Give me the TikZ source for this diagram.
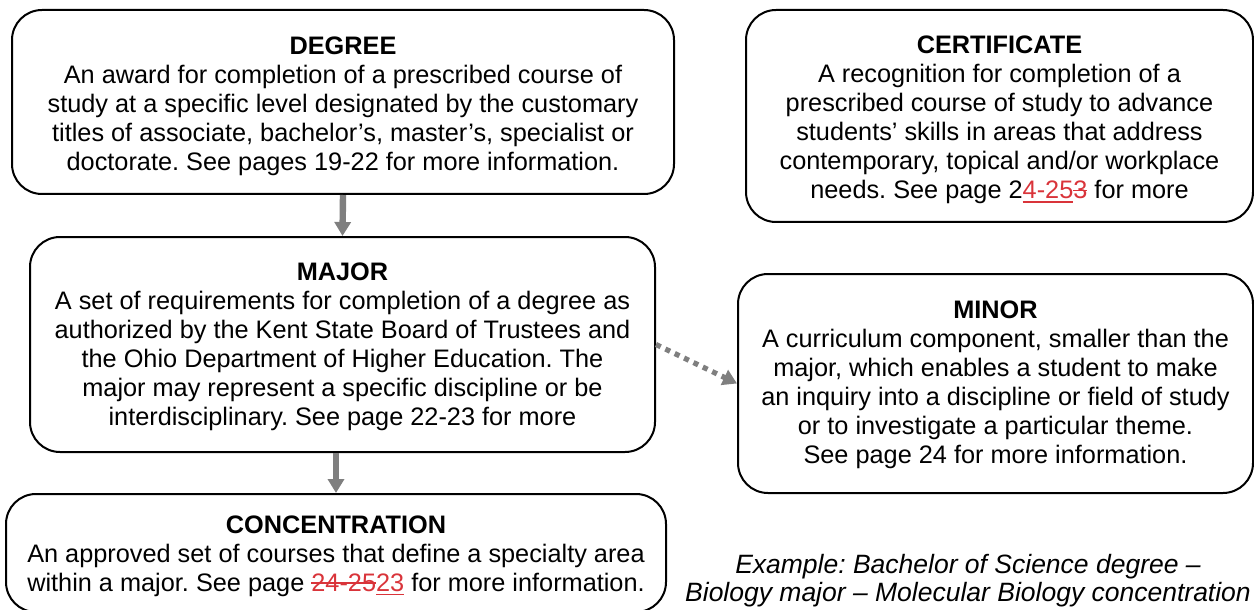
\documentclass[tikz,border=0pt]{standalone}
\usepackage{fontspec}
\setmainfont{Liberation Sans}
\usetikzlibrary{arrows.meta}
\definecolor{edit}{HTML}{D9343A}
\definecolor{arrowgrey}{HTML}{7F7F7F}
\frenchspacing
% tracked-change marks: struck-out and underlined red text
\newcommand\deltext[1]{{\color{edit}\setbox0\hbox{#1}\rlap{\rule[3.8pt]{\wd0}{0.7pt}}\box0}}
\newcommand\instext[1]{{\color{edit}\setbox0\hbox{#1}\rlap{\rule[-1.9pt]{\wd0}{0.7pt}}\box0}}
% extra height on the heading line, pushing the text block down a little
\newcommand\headgap[1]{\rule{0pt}{#1}}
\tikzset{
  infobox/.style={draw, line width=1pt, rounded corners=15pt, align=center,
    inner sep=0pt, font=\fontsize{12.65}{14.5}\selectfont},
  flow/.style={draw=arrowgrey, line width=3.2pt,
    -{Triangle[width=8pt,length=7pt]}},
  optional/.style={draw=arrowgrey, line width=2.6pt, dash pattern=on 2.6pt off 2.6pt,
    -{Triangle[width=8pt,length=7pt]}},
}
\begin{document}
\begin{tikzpicture}[x=0.5pt,y=-0.5pt]
\useasboundingbox (0,0) rectangle (1254,610);

\node[infobox, minimum width=331pt, minimum height=92pt] (degree) at (343,102)
  {\headgap{13pt}\textbf{DEGREE}\\
   An award for completion of a prescribed course of\\
   study at a specific level designated by the customary\\
   titles of associate, bachelor’s, master’s, specialist or\\
   doctorate. See pages 19-22 for more information.};

\node[infobox, minimum width=253.5pt, minimum height=106pt] (cert) at (999.5,116)
  {\headgap{13pt}\textbf{CERTIFICATE}\\
   A recognition for completion of a\\
   prescribed course of study to advance\\
   students’ skills in areas that address\\
   contemporary, topical and/or workplace\\
   needs. See page 2\instext{4-25}\deltext{3} for more};

\node[infobox, minimum width=312.5pt, minimum height=107.5pt] (major) at (342.5,344.5)
  {\headgap{11pt}\textbf{MAJOR}\\
   A set of requirements for completion of a degree as\\
   authorized by the Kent State Board of Trustees and\\
   the Ohio Department of Higher Education. The\\
   major may represent a specific discipline or be\\
   interdisciplinary. See page 22-23 for more};

\node[infobox, minimum width=257.5pt, minimum height=109.5pt] (minor) at (995.5,383.5)
  {\headgap{10pt}\textbf{MINOR}\\
   A curriculum component, smaller than the\\
   major, which enables a student to make\\
   an inquiry into a discipline or field of study\\
   or to investigate a particular theme.\\
   See page 24 for more information.};

\node[infobox, minimum width=330pt, minimum height=59pt] (conc) at (336,553)
  {\headgap{12pt}\textbf{CONCENTRATION}\\
   An approved set of courses that define a specialty area\\
   within a major. See page \deltext{24-25}\instext{23} for more information.};

\node[align=center, inner sep=0pt, font=\fontsize{13.25}{14}\selectfont\itshape] (example) at (968,581)
  {Example: Bachelor of Science degree –\\
   Biology major – Molecular Biology concentration};

\draw[flow] (degree.south) -- (major.north);
\draw[flow] (conc.north |- major.south) -- (conc.north);
\draw[optional] (major.east) -- (minor.west);
\end{tikzpicture}
\end{document}
